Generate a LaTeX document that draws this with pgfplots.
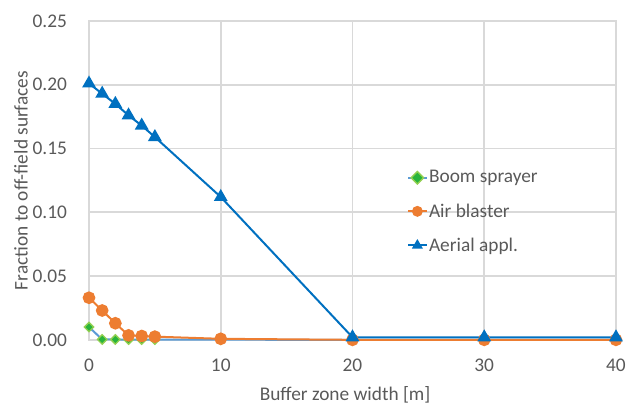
\documentclass[border=0pt]{standalone}
\usepackage{fontspec}
\setmainfont{Carlito}
\usepackage{pgfplots}
\pgfplotsset{compat=1.18}
\usetikzlibrary{calc}
\definecolor{boomline}{RGB}{91,155,213}
\definecolor{boomfill}{RGB}{40,180,60}
\definecolor{boomedge}{RGB}{146,208,80}
\definecolor{airblast}{RGB}{237,125,49}
\definecolor{aerial}{RGB}{0,112,192}
\definecolor{gridgray}{RGB}{217,217,217}
\definecolor{txtgray}{RGB}{89,89,89}

\begin{document}
\begin{tikzpicture}
\begin{axis}[
    name=ax,
    scale only axis,
    width=395pt,
    height=239pt,
    xmin=0, xmax=40,
    ymin=0, ymax=0.25,
    xtick={0,10,20,30,40},
    ytick={0,0.05,0.10,0.15,0.20,0.25},
    yticklabel style={/pgf/number format/fixed, /pgf/number format/fixed zerofill,
        /pgf/number format/precision=2, xshift=-13pt},
    /pgf/number format/assume math mode=true,
    major tick length=0pt,
    grid=major,
    grid style={gridgray, line width=1.2pt},
    axis line style={gridgray, line width=1.2pt},
    tick label style={txtgray},
    font=\fontsize{14.5}{17}\selectfont,
    xticklabel style={yshift=-11pt},
    xlabel={Buffer zone width [m]},
    ylabel={Fraction to off-field surfaces},
    label style={txtgray},
    xlabel style={at={(axis description cs:0.486,-0.174)}, anchor=center},
    ylabel style={at={(axis description cs:-0.129,0.5)}, anchor=center},
    legend style={draw=none, fill=none, at={(0.603,0.536)}, anchor=north west,
        font=\fontsize{14.5}{17}\selectfont, text=txtgray,
        row sep=12pt, inner sep=0pt, nodes={inner sep=1pt}},
    legend cell align=left,
    legend image code/.code={
        \draw[#1] (0pt,0pt) -- (14pt,0pt);
        \draw[#1, mark size=3.3pt, mark repeat=2, mark phase=2] plot coordinates {(0pt,0pt) (7pt,0pt) (14pt,0pt)};
    },
    clip=false,
]
\addplot[boomline, line width=1.5pt, mark=square*, mark size=2.5pt,
    mark options={rotate=45, fill=boomfill, draw=boomedge, line width=1pt}] coordinates {
    (0, 0.010) (1, 0.0003) (2, 0.0003) (3, 0.0002) (4, 0.0002) (5, 0.0002)
    (10, 0.0001) (20, 0) (30, 0) (40, 0)
};
\addlegendentry{Boom sprayer}
\addplot[airblast, line width=1.5pt, mark=*, mark size=4pt,
    mark options={fill=airblast, draw=airblast}] coordinates {
    (0, 0.033) (1, 0.023) (2, 0.013) (3, 0.0035) (4, 0.003) (5, 0.0025)
    (10, 0.0008) (20, 0) (30, 0) (40, 0)
};
\addlegendentry{Air blaster}
\addplot[aerial, line width=1.5pt, mark=triangle*, mark size=4.5pt,
    mark options={fill=aerial, draw=aerial}] coordinates {
    (0, 0.201) (1, 0.193) (2, 0.185) (3, 0.176) (4, 0.168) (5, 0.159)
    (10, 0.112) (20, 0.002) (30, 0.002) (40, 0.002)
};
\addlegendentry{Aerial appl.}
\end{axis}
\pgfresetboundingbox
\path[use as bounding box]
    ($(ax.south west)+(-0.1689*395pt,-0.2038*239pt)$)
    rectangle
    ($(ax.south west)+(1.0209*395pt,1.0658*239pt)$);
\end{tikzpicture}
\end{document}
